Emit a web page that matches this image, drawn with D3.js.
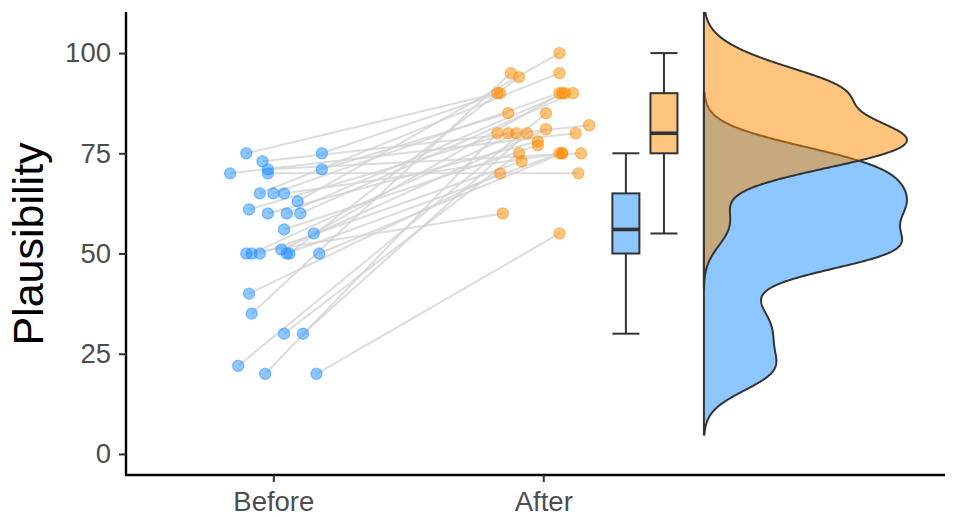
<!DOCTYPE html>
<html>
<head>
<meta charset="utf-8">
<script src="https://cdn.jsdelivr.net/npm/d3@7"></script>
<style>
  html, body { margin: 0; padding: 0; background: #fff; }
  svg { display: block; font-family: "Liberation Sans", Arial, Helvetica, sans-serif; }
</style>
</head>
<body>
<svg id="chart" width="963" height="517"></svg>
<script>
// ---------------- DATA ----------------
const categories = ["Before", "After"];
const yTicks = [0, 25, 50, 75, 100];
const yLabel = "Plausibility";

// paired observations (one entry per participant)
const beforeValues = [75, 75, 71, 40, 20, 20, 22, 30, 30, 35, 70,
  73, 71, 70, 65, 65, 65, 63, 61, 60, 60, 60, 56, 55, 50, 50, 50, 51, 50, 50, 50];
const afterValues = [90, 90, 85, 70, 55, 80, 85, 75, 80, 95, 80,
  82, 75, 70, 95, 90, 75, 100, 80, 78, 90, 90, 77, 90, 60, 80, 73, 81, 75, 94, 75];
// horizontal jitter (in category units)
const beforeJitter = [-0.10, 0.18, 0.18, -0.09, 0.16, -0.03, -0.13, 0.04, 0.11, -0.08, -0.16,
  -0.04, -0.02, -0.02, -0.05, 0.00, 0.04, 0.09, -0.09, -0.02, 0.05, 0.10, 0.04, 0.15, -0.10, -0.08, -0.05, 0.03, 0.05, 0.06, 0.17];
const afterJitter = [-0.17, -0.16, -0.13, -0.16, 0.06, -0.17, 0.01, -0.09, -0.06, -0.12, 0.12,
  0.17, 0.14, 0.13, 0.06, 0.06, 0.07, 0.06, -0.13, -0.02, 0.08, 0.11, -0.02, 0.07, -0.15, -0.10, -0.08, 0.01, 0.06, -0.09, 0.07];

const colors = ["#1E90FF", "#FF8C00"];   // dodgerblue, darkorange

// ---------------- LAYOUT ----------------
const svg = d3.select("#chart");
const plot = { left: 126, right: 945, top: 12, bottom: 475 };

const x = d3.scaleLinear().domain([0.4544, 3.488]).range([plot.left, plot.right]);
const y = d3.scaleLinear().domain([-5.25, 110.25]).range([plot.bottom, plot.top]);

const boxCenters = [2.306, 2.447];
const boxHalf = 0.05;
const violinBase = 2.595;
const violinMaxWidth = 0.752;

svg.append("defs").append("clipPath").attr("id", "clip")
  .append("rect").attr("x", plot.left).attr("y", plot.top)
  .attr("width", plot.right - plot.left).attr("height", plot.bottom - plot.top);

const g = svg.append("g").attr("clip-path", "url(#clip)");

// ---------------- PAIRED LINES ----------------
const pairs = beforeValues.map((b, i) => ({
  xb: 1 + beforeJitter[i], yb: b,
  xa: 2 + afterJitter[i], ya: afterValues[i]
}));

g.append("g").selectAll("line").data(pairs).join("line")
  .attr("x1", d => x(d.xb)).attr("y1", d => y(d.yb))
  .attr("x2", d => x(d.xa)).attr("y2", d => y(d.ya))
  .attr("stroke", "#d3d3d3").attr("stroke-opacity", 0.8).attr("stroke-width", 2);

// ---------------- POINTS ----------------
const pts = [];
beforeValues.forEach((v, i) => pts.push({ x: 1 + beforeJitter[i], y: v, c: colors[0] }));
afterValues.forEach((v, i) => pts.push({ x: 2 + afterJitter[i], y: v, c: colors[1] }));

g.append("g").selectAll("circle").data(pts).join("circle")
  .attr("cx", d => x(d.x)).attr("cy", d => y(d.y)).attr("r", 5.6)
  .attr("fill", d => d.c).attr("fill-opacity", 0.5)
  .attr("stroke", d => d.c).attr("stroke-opacity", 0.5).attr("stroke-width", 1.2);

// ---------------- BOXPLOTS ----------------
function boxStats(vals) {
  const s = vals.slice().sort(d3.ascending);
  const q1 = d3.quantile(s, 0.25), med = d3.quantile(s, 0.5), q3 = d3.quantile(s, 0.75);
  const iqr = q3 - q1;
  const lo = d3.min(s.filter(v => v >= q1 - 1.5 * iqr));
  const hi = d3.max(s.filter(v => v <= q3 + 1.5 * iqr));
  return { q1, med, q3, lo, hi };
}
const groups = [beforeValues, afterValues];
groups.forEach((vals, i) => {
  const st = boxStats(vals);
  const cx = boxCenters[i];
  const bg = g.append("g").attr("stroke", "#333333").attr("fill", "none");
  bg.append("line").attr("x1", x(cx)).attr("x2", x(cx)).attr("y1", y(st.hi)).attr("y2", y(st.q3)).attr("stroke-width", 2);
  bg.append("line").attr("x1", x(cx)).attr("x2", x(cx)).attr("y1", y(st.q1)).attr("y2", y(st.lo)).attr("stroke-width", 2);
  [st.lo, st.hi].forEach(v => bg.append("line")
    .attr("x1", x(cx - boxHalf)).attr("x2", x(cx + boxHalf)).attr("y1", y(v)).attr("y2", y(v)).attr("stroke-width", 2));
  bg.append("rect").attr("x", x(cx - boxHalf)).attr("width", x(cx + boxHalf) - x(cx - boxHalf))
    .attr("y", y(st.q3)).attr("height", y(st.q1) - y(st.q3))
    .attr("fill", colors[i]).attr("fill-opacity", 0.5).attr("stroke-width", 2);
  bg.append("line").attr("x1", x(cx - boxHalf)).attr("x2", x(cx + boxHalf))
    .attr("y1", y(st.med)).attr("y2", y(st.med)).attr("stroke-width", 3.6);
});

// ---------------- HALF VIOLINS (KDE) ----------------
function bwNrd0(vals) {
  const s = vals.slice().sort(d3.ascending);
  const sd = d3.deviation(s);
  const iqr = d3.quantile(s, 0.75) - d3.quantile(s, 0.25);
  const lo = Math.min(sd, iqr / 1.34);
  return 0.9 * lo * Math.pow(s.length, -0.2);
}
function kde(vals) {
  const bw = bwNrd0(vals);
  const lo = d3.min(vals) - 3 * bw, hi = d3.max(vals) + 3 * bw;
  const n = 512, out = [];
  for (let k = 0; k < n; k++) {
    const t = lo + (hi - lo) * k / (n - 1);
    let s = 0;
    for (const v of vals) { const z = (t - v) / bw; s += Math.exp(-0.5 * z * z); }
    out.push({ t, d: s / (vals.length * bw * Math.sqrt(2 * Math.PI)) });
  }
  return out;
}
const dens = groups.map(kde);
const line = d3.line().x(d => x(d[0])).y(d => y(d[1])).curve(d3.curveLinear);
dens.forEach((ds, i) => {
  const dMax = d3.max(ds, d => d.d);   // each half-violin scaled to the same max width
  const ptsV = [[violinBase, ds[0].t]];
  ds.forEach(d => ptsV.push([violinBase + violinMaxWidth * d.d / dMax, d.t]));
  ptsV.push([violinBase, ds[ds.length - 1].t]);
  g.append("path").attr("d", line(ptsV) + "Z")
    .attr("fill", colors[i]).attr("fill-opacity", 0.5)
    .attr("stroke", "#333333").attr("stroke-width", 2).attr("stroke-linejoin", "round");
});

// ---------------- AXES ----------------
const yAxis = svg.append("g").attr("transform", `translate(${plot.left},0)`)
  .call(d3.axisLeft(y).tickValues(yTicks).tickSize(7).tickPadding(8));
const xAxis = svg.append("g").attr("transform", `translate(0,${plot.bottom})`)
  .call(d3.axisBottom(x).tickValues([1, 2]).tickFormat((d, i) => categories[i]).tickSize(7).tickPadding(9));

[yAxis, xAxis].forEach(ax => {
  ax.select(".domain").attr("stroke", "#000").attr("stroke-width", 2.4);
  ax.selectAll(".tick line").attr("stroke", "#333").attr("stroke-width", 2);
  ax.selectAll(".tick text").attr("fill", "#4D4D4D").attr("font-size", 27.5)
    .attr("font-family", "Liberation Sans, Arial, sans-serif");
});
yAxis.select(".domain").attr("d", `M0,${plot.top}V${plot.bottom + 1}`);
xAxis.select(".domain").attr("d", `M${plot.left - 1},0H${plot.right}`);

svg.append("text")
  .attr("transform", `translate(43,244) rotate(-90)`)
  .attr("text-anchor", "middle")
  .attr("font-size", 43).attr("fill", "#000")
  .text(yLabel);
</script>
</body>
</html>
